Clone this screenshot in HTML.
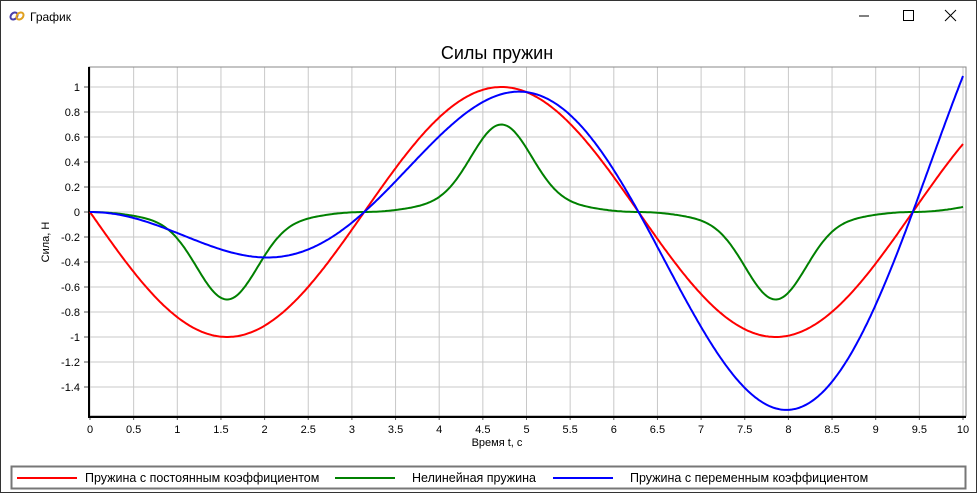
<!DOCTYPE html>
<html><head><meta charset="utf-8"><style>
body{margin:0;width:977px;height:493px;overflow:hidden;background:#fff;font-family:"Liberation Sans",sans-serif}
</style></head><body>
<svg id="s" width="977" height="493" xmlns="http://www.w3.org/2000/svg" font-family="Liberation Sans, sans-serif">
<rect x="0.5" y="0.5" width="976" height="492" fill="#fff" stroke="#333"/>
<g fill="none" stroke="#4a3fa8" stroke-width="2"><ellipse cx="14" cy="16" rx="4" ry="3" transform="rotate(-45 14 16)"/><ellipse cx="20" cy="16" rx="4" ry="3" transform="rotate(-45 20 16)" stroke="#e0a020"/></g>
<text x="30" y="21" font-size="12">График</text>
<line x1="859" y1="16" x2="869" y2="16" stroke="#000"/>
<rect x="903.5" y="10.5" width="10" height="10" fill="none" stroke="#000"/>
<path d="M945 10L956 21M956 10L945 21" stroke="#000"/>
<text x="497" y="59" font-size="18" text-anchor="middle">Силы пружин</text>
<g id="grid"></g>
<rect x="11.5" y="466.5" width="954" height="22" fill="none" stroke="#777" stroke-width="2"/>
<line x1="17" y1="478" x2="77" y2="478" stroke="#f00" stroke-width="2"/>
<text x="85" y="482" font-size="12.5">Пружина с постоянным коэффициентом</text>
<line x1="335" y1="478" x2="395" y2="478" stroke="#008000" stroke-width="2"/>
<text x="412" y="482" font-size="12.5">Нелинейная пружина</text>
<line x1="553" y1="478" x2="613" y2="478" stroke="#00f" stroke-width="2"/>
<text x="630" y="482" font-size="12.5">Пружина с переменным коэффициентом</text>
</svg>
<script>
var g=document.getElementById('grid');
function X(t){return 90+t*87.3}function Y(v){return 212-v*125}
var h='';
for(var i=0;i<=20;i++){var x=X(i*0.5);h+='<line x1="'+x+'" y1="67" x2="'+x+'" y2="416" stroke="#c8c8c8"/>';
h+='<text x="'+x+'" y="433" font-size="11" text-anchor="middle">'+(i*0.5)+'</text>';h+='<line x1="'+x+'" y1="416" x2="'+x+'" y2="420" stroke="#555"/>';}
for(var i=-7;i<=5;i++){var v=i*0.2,y=Y(v);h+='<line x1="89" y1="'+y+'" x2="966" y2="'+y+'" stroke="#c8c8c8"/>';
var l=Math.round(v*10)/10;h+='<text x="80" y="'+(y+4)+'" font-size="11" text-anchor="end">'+(l==0?'0':l)+'</text>';h+='<line x1="84" y1="'+y+'" x2="89" y2="'+y+'" stroke="#555"/>';}
h+='<rect x="89" y="67" width="877" height="349" fill="none" stroke="#888" stroke-width="1"/>';
h+='<line x1="89" y1="67" x2="89" y2="417" stroke="#000" stroke-width="2"/><line x1="88" y1="417" x2="966" y2="417" stroke="#000" stroke-width="2"/>';
h+='<text x="497" y="446" font-size="11" text-anchor="middle">Время t, c</text>';
h+='<text x="49" y="242" font-size="11" text-anchor="middle" transform="rotate(-90 49 242)">Сила, Н</text>';
function P(f,c){var d='';for(var t=0;t<=10.0001;t+=0.02){d+=(d?'L':'M')+X(t).toFixed(1)+' '+Y(f(t)).toFixed(1);}return '<path d="'+d+'" fill="none" stroke="'+c+'" stroke-width="2"/>';}
h+=P(function(t){return -Math.sin(t)},'#f00');
h+=P(function(t){var s=Math.sin(t);return -(0.13*s*Math.abs(s)+0.57*Math.pow(s,9))},'#008000');
h+=P(function(t){return -0.2*t*Math.sin(t)},'#00f');
g.innerHTML=h;
</script>
</body></html>
